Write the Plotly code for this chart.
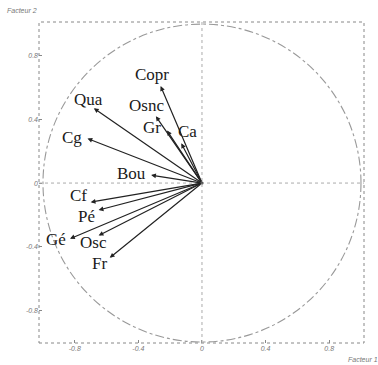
import plotly.graph_objects as go

# Variables (correlation circle coordinates)
variables = ["Copr", "Osnc", "Gr", "Ca", "Qua", "Cg", "Bou", "Cf", "Pé", "Gé", "Osc", "Fr"]
factor1 = [-0.26, -0.29, -0.22, -0.13, -0.68, -0.72, -0.32, -0.70, -0.65, -0.83, -0.65, -0.58]
factor2 = [0.61, 0.42, 0.33, 0.25, 0.47, 0.28, 0.05, -0.12, -0.17, -0.35, -0.33, -0.47]

tick_vals = [-0.8, -0.4, 0, 0.4, 0.8]
tick_text = ["-0.8", "-0.4", "0", "0.4", "0.8"]

# label placement (style): xshift, yshift in pixels relative to arrow tip
label_shift = {
    "Copr": (-9, 12),
    "Osnc": (-9, 11),
    "Gr": (-15, 3),
    "Ca": (6, 12),
    "Qua": (-5, 9),
    "Cg": (-16, 1),
    "Bou": (-20, 2),
    "Cf": (-12, 7),
    "Pé": (-12, -6),
    "Gé": (-14, -1),
    "Osc": (-5, -7),
    "Fr": (-10, -6),
}

fig = go.Figure()
fig.add_trace(go.Scatter(x=[0], y=[0], mode="markers",
                         marker=dict(size=3, color="#111"), showlegend=False,
                         hoverinfo="skip"))

annotations = []
for name, fx, fy in zip(variables, factor1, factor2):
    annotations.append(dict(x=fx, y=fy, ax=0, ay=0, xref="x", yref="y",
                            axref="x", ayref="y", text="", showarrow=True,
                            arrowhead=2, arrowsize=0.8, arrowwidth=1.2,
                            arrowcolor="#222"))
    xs, ys = label_shift[name]
    annotations.append(dict(x=fx, y=fy, xref="x", yref="y", text=name,
                            showarrow=False, xanchor="center", yanchor="middle",
                            xshift=xs, yshift=ys,
                            font=dict(family="Liberation Serif", size=17, color="#1a1a1a")))

annotations.append(dict(x=-0.105, y=1.035, xref="paper", yref="paper", text="Facteur 2",
                        showarrow=False, xanchor="left", yanchor="middle",
                        font=dict(family="Liberation Sans", size=7, color="#777", style="italic")))
annotations.append(dict(x=0.945, y=-0.035, xref="paper", yref="paper", text="Facteur 1",
                        showarrow=False, xanchor="left", yanchor="top",
                        font=dict(family="Liberation Sans", size=7, color="#777", style="italic")))

shapes = [
    dict(type="rect", xref="paper", yref="paper", x0=0, y0=0, x1=1, y1=1,
         line=dict(color="#888", width=1, dash="dot")),
    dict(type="line", xref="paper", yref="y", x0=0, x1=1, y0=0, y1=0,
         line=dict(color="#aaa", width=1, dash="dot")),
    dict(type="line", xref="x", yref="paper", x0=0, x1=0, y0=0, y1=1,
         line=dict(color="#aaa", width=1, dash="dot")),
    dict(type="circle", xref="x", yref="y", x0=-1, y0=-1, x1=1, y1=1,
         line=dict(color="#999", width=1.1, dash="dashdot")),
]

axis_common = dict(tickvals=tick_vals, ticktext=tick_text, showgrid=False,
                   zeroline=False, showline=False, ticks="inside", ticklen=3,
                   tickcolor="#888",
                   tickfont=dict(family="Liberation Sans", size=7, color="#777", style="italic"))

fig.update_layout(
    width=378, height=365,
    margin=dict(l=39, r=14, t=22, b=22),
    paper_bgcolor="white", plot_bgcolor="white",
    xaxis=dict(range=[-1.025, 1.019], **axis_common),
    yaxis=dict(range=[-1.006, 1.013], **axis_common),
    annotations=annotations, shapes=shapes, showlegend=False,
)

fig.write_html("out.html")
